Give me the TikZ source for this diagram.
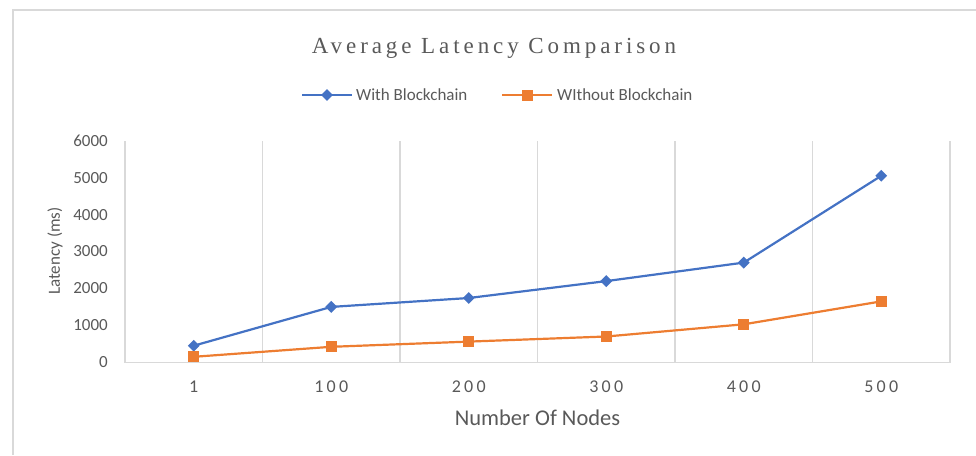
\documentclass[tikz,border=0pt]{standalone}
\usepackage{fontspec}
\setmainfont{Carlito}
\newfontfamily\titlefont[LetterSpace=17]{Liberation Serif}
\newfontfamily\ticksp[LetterSpace=18]{Carlito}
\usetikzlibrary{shapes.geometric}
\definecolor{cblue}{HTML}{4472C4}
\definecolor{corange}{HTML}{ED7D31}
\definecolor{ctext}{HTML}{595959}
\definecolor{cgrid}{HTML}{D9D9D9}
\tikzset{
  frameline/.style={draw=cgrid, line width=1.5pt},
  gridline/.style={draw=cgrid, line width=1.3pt},
  axisline/.style={draw=cgrid, line width=1.5pt},
  bline/.style={draw=cblue, line width=2.2pt, line join=round},
  oline/.style={draw=corange, line width=2.2pt, line join=round},
  bmark/.style={diamond, fill=cblue, inner sep=0pt, minimum width=12pt, minimum height=12pt},
  omark/.style={rectangle, fill=corange, inner sep=0pt, minimum width=11pt, minimum height=11pt},
  ylab/.style={anchor=east, inner sep=0pt, text=ctext, font=\fontsize{17}{20}\selectfont},
  xlab/.style={anchor=base, inner sep=0pt, text=ctext, font=\ticksp\fontsize{18}{20}\selectfont},
  legtext/.style={anchor=west, inner sep=0pt, text=ctext, font=\fontsize{17}{20}\selectfont},
}
\begin{document}
\begin{tikzpicture}[x=1pt, y=-1pt]
\useasboundingbox (0,0) rectangle (976,455);
% chart frame
\coordinate (fbl) at (13,455);
\coordinate (ftl) at (13,10);
\coordinate (ftr) at (976,10);
\draw[frameline] (fbl) -- (ftl) -- (ftr);
% title
\node[anchor=base, inner sep=0pt, text=ctext, font=\titlefont\fontsize{23}{27}\selectfont] (title) at (494,53) {Average Latency Comparison};
% legend
\coordinate (lb1) at (302,95); \coordinate (lb2) at (352,95);
\draw[bline] (lb1) -- (lb2);
\node[bmark] (lbm) at (327,95) {};
\node[legtext] (lbt) at (356,95) {With Blockchain};
\coordinate (lo1) at (502,95); \coordinate (lo2) at (552,95);
\draw[oline] (lo1) -- (lo2);
\node[omark] (lom) at (527,95) {};
\node[legtext] (lot) at (557,95) {WIthout Blockchain};
% grid
\foreach \k in {0,...,6} {
  \coordinate (gt\k) at ({125+137.5*\k},141);
  \coordinate (gb\k) at ({125+137.5*\k},362.5);
  \draw[gridline] (gt\k) -- (gb\k);
}
\draw[axisline] (gb0) -- (gb6);
% y labels
\foreach \v in {0,...,6} {
  \node[ylab] (yl\v) at (108,{362.3-36.93*\v}) {\ifnum\v=0 0\else\v000\fi};
}
% x labels
\foreach \lab [count=\i] in {1,100,200,300,400,500} {
  \node[xlab] (xl\i) at ({125+137.5*(\i-0.5)},392) {\lab};
}
% axis titles
\node[anchor=base, inner sep=0pt, text=ctext, font=\fontsize{22.5}{26}\selectfont] (xtitle) at (537.5,425) {Number Of Nodes};
\node[rotate=90, inner sep=0pt, text=ctext, font=\fontsize{17}{20}\selectfont] (ytitle) at (55,251) {Latency (ms)};
% data
\coordinate (b1) at (193.75,345.7);
\coordinate (b2) at (331.25,306.9);
\coordinate (b3) at (468.75,298.0);
\coordinate (b4) at (606.25,281.1);
\coordinate (b5) at (743.75,262.6);
\coordinate (b6) at (881.25,175.8);
\coordinate (o1) at (193.75,356.8);
\coordinate (o2) at (331.25,346.8);
\coordinate (o3) at (468.75,341.6);
\coordinate (o4) at (606.25,336.5);
\coordinate (o5) at (743.75,324.3);
\coordinate (o6) at (881.25,301.4);
\draw[bline] (b1) -- (b2) -- (b3) -- (b4) -- (b5) -- (b6);
\draw[oline] (o1) -- (o2) -- (o3) -- (o4) -- (o5) -- (o6);
\foreach \i in {1,...,6} {
  \node[bmark] (bm\i) at (b\i) {};
  \node[omark] (om\i) at (o\i) {};
}
\end{tikzpicture}
\end{document}
